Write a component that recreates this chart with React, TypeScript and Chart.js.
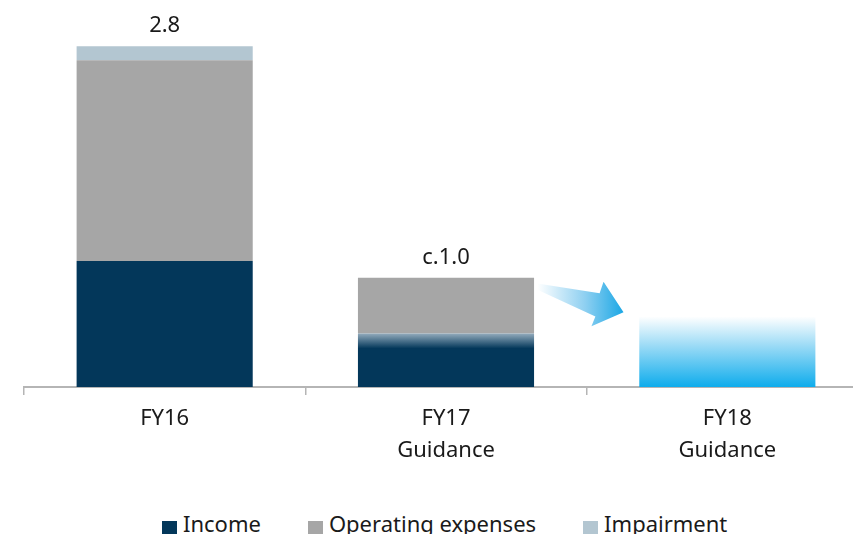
import React, { useEffect, useRef } from "react";
import { Chart, registerables } from "chart.js";

Chart.register(...registerables);

// ---- data ----
const categories: string[][] = [["FY16"], ["FY17", "Guidance"], ["FY18", "Guidance"]];
const incomeValues: (number | null)[] = [1.035, 0.44, null];
const opexValues: (number | null)[] = [1.65, 0.458, null];
const impairmentValues: (number | null)[] = [0.115, null, null];
const guidanceValues: (number | null)[] = [null, null, 0.58];
const totalLabels: string[] = ["2.8", "c.1.0", ""];
const legendLabels: string[] = ["Income", "Operating expenses", "Impairment"];

// ---- styles ----
const NAVY = "#03375a";
const GREY = "#a6a6a6";
const IMPAIR = "#b3c6d1";
const FONT = "'Noto Sans', sans-serif";
const legendColors = [NAVY, GREY, IMPAIR];

// arrow decoration: [fraction of category width from FY17 centre, value on y]
const arrowShape: [number, number][] = [
  [0.325, 0.85],
  [0.546, 0.77],
  [0.56, 0.865],
  [0.631, 0.615],
  [0.517, 0.5],
  [0.531, 0.58],
  [0.325, 0.8],
];

const decorPlugin = {
  id: "decor",
  afterDatasetsDraw(chart: any) {
    const { ctx } = chart;
    const x = chart.scales.x;
    const y = chart.scales.y;
    // totals above bars
    ctx.save();
    ctx.font = `22px ${FONT}`;
    ctx.fillStyle = "#1a1a1a";
    ctx.textAlign = "center";
    ctx.textBaseline = "alphabetic";
    totalLabels.forEach((lab, i) => {
      if (!lab) return;
      const total =
        (incomeValues[i] || 0) + (opexValues[i] || 0) + (impairmentValues[i] || 0) + (guidanceValues[i] || 0);
      ctx.fillText(lab, x.getPixelForValue(i), y.getPixelForValue(total) - 14);
    });
    // arrow
    const c1 = x.getPixelForValue(1);
    const w = x.getPixelForValue(2) - c1;
    const pts = arrowShape.map(([fx, v]) => [c1 + fx * w, y.getPixelForValue(v)]);
    const xs = pts.map((p) => p[0]);
    const g = ctx.createLinearGradient(Math.min(...xs), 0, Math.max(...xs), 0);
    g.addColorStop(0, "rgba(255,255,255,1)");
    g.addColorStop(0.55, "#8fd0f1");
    g.addColorStop(1, "#1ba7e5");
    ctx.beginPath();
    pts.forEach((p, i) => (i === 0 ? ctx.moveTo(p[0], p[1]) : ctx.lineTo(p[0], p[1])));
    ctx.closePath();
    ctx.fillStyle = g;
    ctx.fill();
    ctx.restore();
  },
};

export default function App() {
  const ref = useRef<HTMLCanvasElement | null>(null);
  useEffect(() => {
    if (!ref.current) return;
    const chart = new Chart(ref.current, {
      type: "bar",
      data: {
        labels: categories,
        datasets: [
          {
            label: legendLabels[0],
            data: incomeValues,
            backgroundColor: (c: any) => {
              if (c.type !== "data" || c.dataIndex !== 1) return NAVY;
              const ch = c.chart;
              if (!ch.chartArea) return NAVY;
              const top = ch.scales.y.getPixelForValue(incomeValues[1] as number);
              const g = ch.ctx.createLinearGradient(0, top, 0, top + 15);
              g.addColorStop(0, "#93abbc");
              g.addColorStop(1, NAVY);
              return g;
            },
          },
          { label: legendLabels[1], data: opexValues, backgroundColor: GREY },
          { label: legendLabels[2], data: impairmentValues, backgroundColor: IMPAIR },
          {
            label: "FY18 Guidance",
            data: guidanceValues,
            backgroundColor: (c: any) => {
              const ch = c.chart;
              if (!ch.chartArea) return "#12adec";
              const y = ch.scales.y;
              const top = y.getPixelForValue(guidanceValues[2] as number);
              const g = ch.ctx.createLinearGradient(0, top, 0, y.getPixelForValue(0));
              g.addColorStop(0, "#ffffff");
              g.addColorStop(0.4, "#9fdcf6");
              g.addColorStop(1, "#0eacec");
              return g;
            },
          },
        ],
      },
      options: {
        animation: false,
        responsive: false,
        maintainAspectRatio: false,
        layout: { padding: { left: 24, right: 12, top: 22, bottom: 3 } },
        datasets: { bar: { categoryPercentage: 1, barPercentage: 0.626, borderWidth: 0 } },
        plugins: { legend: { display: false }, tooltip: { enabled: false } },
        scales: {
          x: {
            stacked: true,
            offset: true,
            grid: {
              display: true,
              offset: true,
              drawOnChartArea: false,
              drawTicks: true,
              tickLength: 8,
              color: "#b5b5b5",
              lineWidth: 1.5,
            },
            border: { display: true, color: "#b5b5b5", width: 2 },
            ticks: {
              color: "#1a1a1a",
              padding: 8,
              maxRotation: 0,
              font: { family: FONT, size: 22, lineHeight: "32px" },
            },
          },
          y: { stacked: true, display: false, min: 0, max: 3.0 },
        },
      },
      plugins: [decorPlugin],
    });
    return () => chart.destroy();
  }, []);

  return (
    <div
      style={{
        position: "fixed",
        left: 0,
        top: 0,
        width: 853,
        height: 534,
        overflow: "hidden",
        background: "#fff",
      }}
    >
      <canvas ref={ref} width={880} height={478} style={{ position: "absolute", left: 0, top: 0 }} />
      <div
        style={{
          position: "absolute",
          left: 162,
          top: 512,
          display: "flex",
          whiteSpace: "nowrap",
          fontFamily: FONT,
          fontSize: 22,
          lineHeight: "22px",
          color: "#1a1a1a",
        }}
      >
        {legendLabels.map((lab, i) => (
          <div key={lab} style={{ display: "flex", alignItems: "flex-start", marginRight: 47 }}>
            <span
              style={{
                display: "inline-block",
                width: 15,
                height: 15,
                marginTop: 9,
                marginRight: 6,
                background: legendColors[i],
              }}
            />
            <span>{lab}</span>
          </div>
        ))}
      </div>
    </div>
  );
}
